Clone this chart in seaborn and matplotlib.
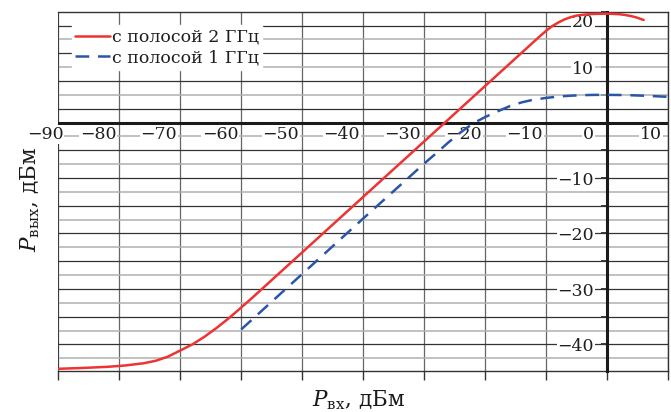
import numpy as np
import pandas as pd
import matplotlib
matplotlib.use('Agg')
import matplotlib.pyplot as plt
import seaborn as sns

# output power vs input power
p_in_2ghz = [-90, -86, -82, -79, -76, -74, -72, -70, -68, -66, -64, -62, -60, -58, -56, -50,
             -40, -30, -20, -12, -11, -10, -9, -8, -7, -6, -5, -4, -3, -2, 0, 2, 3, 4, 5, 6]
p_out_2ghz = [-44.4, -44.25, -44.05, -43.8, -43.4, -42.95, -42.2, -41.1, -40.0, -38.6, -37.0,
              -35.25, -33.35, -31.4, -29.4, -23.4, -13.4, -3.4, 6.6, 14.6, 15.6, 16.55, 17.4,
              18.05, 18.6, 19.0, 19.3, 19.45, 19.55, 19.6, 19.65, 19.55, 19.4, 19.2, 18.9, 18.5]

p_in_1ghz = [-60, -50, -40, -30, -28, -26, -24, -22, -20, -18, -16, -14, -12, -10, -8, -6,
             -4, -2, 0, 2, 4, 6, 8, 10]
p_out_1ghz = [-37.3, -27.3, -17.3, -7.4, -5.5, -3.55, -1.75, -0.15, 1.0, 2.0, 2.95, 3.65, 4.15,
              4.45, 4.7, 4.85, 4.95, 5.0, 5.0, 4.98, 4.93, 4.85, 4.75, 4.65]

x_ticks = [-90, -80, -70, -60, -50, -40, -30, -20, -10, 0, 10]
y_tick_marks = [-40, -35, -30, -25, -20, -15, -10, -5, 5, 10, 15, 20]
y_tick_labels = [-40, -30, -20, -10, 10, 20]
series_names = ['с полосой 2 ГГц', 'с полосой 1 ГГц']

sns.set_style('white')
plt.rcParams['font.family'] = ['DejaVu Serif']
plt.rcParams['mathtext.fontset'] = 'dejavuserif'

fig = plt.figure(figsize=(6.71, 4.12), dpi=100)
ax = fig.add_axes([0.0869, 0.0995, 0.9087, 0.8721])
ax.set_xlim(-90, 10)
ax.set_ylim(-44.8, 20)

# grid: vertical every 10, horizontal every 2.5 (shade alternates like the print)
ax.set_xticks(x_ticks)
ax.grid(axis='x', color='#666666', lw=0.9, zorder=1)
for lvl in np.arange(-42.5, 19, 2.5):
    if lvl == 0:
        continue
    dark = (lvl % 5 == 0) == (lvl < 0)
    ax.axhline(lvl, color='#333333' if dark else '#b0b0b0', lw=0.9 if dark else 1.1, zorder=1)
ax.axvline(-90, color='#333333', lw=1.2, zorder=2)
ax.axhline(0, color='#1a1a1a', lw=2.2, zorder=2)

df2 = pd.DataFrame({'x': p_in_2ghz, 'y': p_out_2ghz})
df1 = pd.DataFrame({'x': p_in_1ghz, 'y': p_out_1ghz})
sns.lineplot(data=df2, x='x', y='y', ax=ax, color='#ee3333', lw=1.8, label=series_names[0], zorder=4)
sns.lineplot(data=df1, x='x', y='y', ax=ax, color='#2b55a8', lw=1.8, label=series_names[1],
             linestyle=(0, (5.5, 3.5)), zorder=4)

# axes frame and the y axis line through x = 0
ax.spines['left'].set_position(('data', 0))
ax.spines['left'].set_linewidth(2.2)
ax.spines['left'].set_color('#1a1a1a')
ax.spines['left'].set_zorder(3)
for side in ['top', 'right', 'bottom']:
    ax.spines[side].set_color('#333333')
    ax.spines[side].set_linewidth(1.0)

ax.set_yticks(y_tick_marks)
ax.tick_params(axis='x', bottom=True, labelbottom=False, length=6.5, width=1.0,
               color='#333333', direction='out')
ax.tick_params(axis='y', left=True, labelleft=False, length=4.3, width=1.2,
               color='#1a1a1a', direction='out')

box = dict(facecolor='white', edgecolor='none', pad=0.5)
for v in x_ticks:
    if v == -90:
        dx = 3.6
    elif v == 0:
        dx = -9.4
    elif v == 10:
        dx = -4.3
    else:
        dx = -2.2
    ax.annotate(str(v).replace('-', '\u2212'), xy=(v, 0), xytext=(dx, -8.5),
                textcoords='offset points', ha='right', va='center',
                fontsize=12.5, color='#1e1e1e', bbox=box, zorder=3)
for v in y_tick_labels:
    dy = -7.5 if v == 20 else -1.8
    ax.annotate(str(v).replace('-', '\u2212'), xy=(0, v), xytext=(-9.5, dy),
                textcoords='offset points', ha='right', va='center',
                fontsize=12.5, color='#1e1e1e', bbox=box, zorder=3)

ax.set_xlabel(r'$P_{\mathrm{вх}}$, дБм', fontsize=15.5, color='#1a1a1a')
ax.xaxis.set_label_coords(0.4916, -0.0807)
ax.xaxis.label.set_va('center')
ax.set_ylabel(r'$P_{\mathrm{вых}}$, дБм', fontsize=15.5, color='#1a1a1a')
ax.yaxis.set_label_coords(-0.0464, 0.476)
ax.yaxis.label.set_va('center')

leg = ax.legend(loc='upper left', bbox_to_anchor=(0.0219, 0.962), borderaxespad=0,
                fontsize=12.5, frameon=True, fancybox=False, framealpha=1,
                edgecolor='white', borderpad=0.2, handlelength=2.0,
                handletextpad=0.1, labelspacing=0.2)
for text in leg.get_texts():
    text.set_color('#1e1e1e')

fig.savefig('out.png', dpi=100)
plt.close(fig)
